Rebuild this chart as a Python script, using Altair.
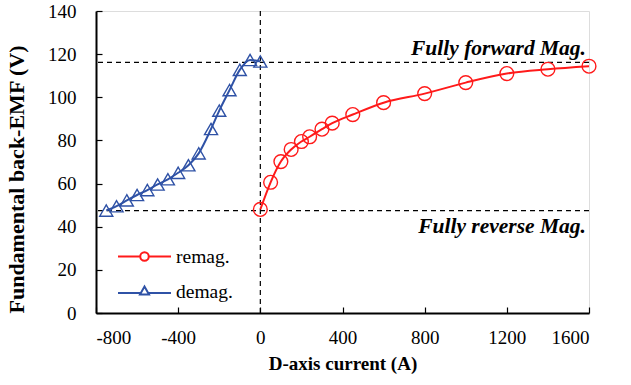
import altair as alt
import pandas as pd

remag_x = [0, 50, 100, 150, 200, 240, 300, 350, 450, 600, 800, 1000, 1200, 1400, 1600]
remag_y = [48, 60.6, 70.2, 75.8, 79.5, 81.7, 85.2, 88, 92, 97.5, 101.7, 106.8, 111, 113, 114.4]
demag_x = [-750, -700, -650, -600, -550, -500, -450, -400, -350, -300, -240, -200, -150, -100, -50, 0]
demag_y = [47.5, 49.5, 52.2, 54.7, 57, 59.6, 62, 65, 68.5, 74, 85.3, 93.8, 103.3, 112.7, 117.3, 116.6]

series_names = ["remag.", "demag."]
series_colors = ["#FF1A1A", "#2F52A6"]
x_ticks = [-800, -400, 0, 400, 800, 1200, 1600]
y_ticks = [0, 20, 40, 60, 80, 100, 120, 140]

hlines = [116.2, 47.5]
vlines = [0]
ann_text = ["Fully forward Mag.", "Fully reverse Mag."]
ann_x = [1600, 1600]
ann_y = [116.2, 47.5]
ann_dy = [-13, 16]

FONT = "'Liberation Serif', 'DejaVu Serif', serif"
W, H = 493, 302

rows = []
for x, y in zip(remag_x, remag_y):
    rows.append({"I": x, "V": y, "s": "remag."})
for x, y in zip(demag_x, demag_y):
    rows.append({"I": x, "V": y, "s": "demag."})
df = pd.DataFrame(rows)

xs = alt.Scale(domain=[-800, 1600], nice=False, zero=False)
ys = alt.Scale(domain=[0, 140], nice=False)
cscale = alt.Scale(domain=series_names, range=series_colors)

legend_paths = [
    "M-1,0L-0.16,0M0.16,0L1,0M0.16,0A0.16,0.16,0,1,1,-0.16,0A0.16,0.16,0,1,1,0.16,0Z",
    "M-1,0.06L-0.16,0.06M0.16,0.06L1,0.06M-0.17,0.11L0.17,0.11L0,-0.19Z",
]
legend_y = [228, 263]

main_x_axis = alt.Axis(values=x_ticks, ticks=False, grid=False, domainColor="black", domainWidth=2,
                       labelExpr="'' + datum.value",
                       labelFont=FONT, labelFontSize=19, labelColor="black", labelPadding=15,
                       title="D-axis current (A)", titleFont=FONT, titleFontSize=19,
                       titleFontWeight="bold", titleColor="black", titlePadding=7)
main_y_axis = alt.Axis(values=y_ticks, ticks=False, grid=False, domainColor="black", domainWidth=2,
                       labelExpr="'' + datum.value",
                       labelFont=FONT, labelFontSize=19, labelColor="black", labelPadding=20,
                       title="Fundamental back-EMF (V)", titleFont=FONT, titleFontSize=22,
                       titleFontWeight="bold", titleColor="black", titlePadding=19, titleY=168)

line = alt.Chart(df).mark_line(interpolate="monotone", strokeWidth=2).encode(
    x=alt.X("I:Q", scale=xs, axis=main_x_axis),
    y=alt.Y("V:Q", scale=ys, axis=main_y_axis),
    color=alt.Color("s:N", scale=cscale, legend=None),
    detail="s:N",
    order="I:Q",
)

pts = alt.Chart(df).mark_point(filled=False, strokeWidth=1.4, opacity=1).encode(
    x=alt.X("I:Q", scale=xs, axis=None),
    y=alt.Y("V:Q", scale=ys, axis=None),
    color=alt.Color("s:N", scale=cscale, legend=None),
    shape=alt.Shape("s:N", scale=alt.Scale(domain=series_names, range=["circle", "triangle-up"]), legend=None),
    size=alt.Size("s:N", scale=alt.Scale(domain=series_names, range=[190, 170]), legend=None),
)

legend_layers = []
for i, name in enumerate(series_names):
    leg = alt.Legend(orient="none", legendX=21, legendY=legend_y[i], title=None,
                     padding=0, labelFont=FONT, labelFontSize=19.5,
                     labelColor="black", symbolSize=2809, symbolOpacity=1,
                     symbolStrokeColor=series_colors[i], symbolFillColor="transparent",
                     symbolStrokeWidth=2, labelOffset=4, rowPadding=0, clipHeight=35)
    sub = df[df["s"] == name]
    legend_layers.append(alt.Chart(sub).mark_point(filled=False, opacity=0).encode(
        x=alt.X("I:Q", scale=xs, axis=None),
        y=alt.Y("V:Q", scale=ys, axis=None),
        shape=alt.Shape("s:N", scale=alt.Scale(domain=[name], range=[legend_paths[i]]), legend=leg),
    ))

hdf = pd.DataFrame({"y": hlines})
vdf = pd.DataFrame({"x": vlines})
hrule = alt.Chart(hdf).mark_rule(color="black", strokeDash=[5, 4], strokeWidth=1.2).encode(
    y=alt.Y("y:Q", scale=ys, axis=None))
vrule = alt.Chart(vdf).mark_rule(color="black", strokeDash=[5, 4], strokeWidth=1.2).encode(
    x=alt.X("x:Q", scale=xs, axis=alt.Axis(orient="top", offset=-H, values=x_ticks, labels=False,
                                           domain=False, grid=False, ticks=True, tickSize=6,
                                           tickColor="black", tickWidth=1.2, title=None)))

tick_df = pd.DataFrame({"y": [0]})
ytick_layer = alt.Chart(tick_df).mark_point(opacity=0).encode(
    y=alt.Y("y:Q", scale=ys, axis=alt.Axis(orient="right", offset=-W, values=y_ticks, labels=False,
                                           domain=False, grid=False, ticks=True, tickSize=6,
                                           tickColor="black", tickWidth=1.2, title=None)))

adf = pd.DataFrame({"t": ann_text, "x": ann_x, "y": ann_y, "dy": ann_dy})
ann_layers = []
for i in range(len(ann_text)):
    sub = adf.iloc[[i]]
    ann_layers.append(alt.Chart(sub).mark_text(align="right", baseline="middle", font=FONT,
                                               fontSize=21.5, fontWeight="bold", fontStyle="italic",
                                               color="black", dx=-3, dy=float(ann_dy[i])).encode(
        x=alt.X("x:Q", scale=xs, axis=None),
        y=alt.Y("y:Q", scale=ys, axis=None),
        text="t:N"))

chart = alt.layer(hrule, vrule, ytick_layer, line, pts, *legend_layers, *ann_layers).resolve_axis(
    x="independent", y="independent"
).resolve_scale(shape="independent").properties(
    width=W, height=H,
    autosize=alt.AutoSizeParams(type="none"),
    padding={"left": 96, "top": 11, "right": 42, "bottom": 72},
).configure_view(stroke="#444", strokeWidth=1.2).configure(background="white")

chart.save("out.html", embed_options={"renderer": "svg", "actions": False})
